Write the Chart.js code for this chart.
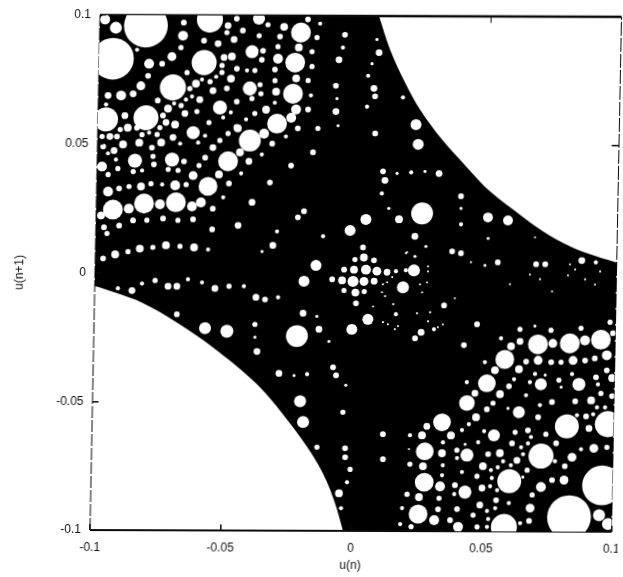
<!DOCTYPE html>
<html>
<head>
<meta charset="utf-8">
<title>u(n) vs u(n+1)</title>
<script src="https://cdn.jsdelivr.net/npm/chart.js@4/dist/chart.umd.min.js"></script>
<style>
  html, body { margin: 0; background: #fff; overflow: hidden; }
  /* the original is a slightly skewed scan */
  #chart { display: block; transform-origin: 356px 273.5px; transform: matrix(1, 0.0033, -0.0194, 1, 0, 0); }
</style>
</head>
<body>
<canvas id="chart" width="623" height="577"></canvas>
<script>
const tickValues = [-0.1, -0.05, 0, 0.05, 0.1];
const xTickLabels = ['-0.1', '-0.05', '0', '0.05', '0.1'];
const yTickLabels = ['-0.1', '-0.05', '0', '0.05', '0.1'];

// edge of the black region: top right and bottom left (runs on past the frame, the plot area clips it)
const upperEdge = [[-0.1,0.11],[0.0035,0.11],[0.007,0.1],[0.0115,0.087],[0.0175,0.0742],[0.0234,0.0638],[0.0321,0.0521],[0.0419,0.0413],[0.0509,0.032],[0.0614,0.0239],[0.0715,0.0166],[0.082,0.0108],[0.0924,0.0069],[0.1,0.0046],[0.11,0.002]];
const lowerEdge = [[-0.11,-0.003],[-0.1,-0.0052],[-0.0929,-0.0075],[-0.0813,-0.0118],[-0.0682,-0.0193],[-0.0542,-0.0289],[-0.037,-0.0432],[-0.0253,-0.0568],[-0.015,-0.071],[-0.0083,-0.0838],[-0.003,-0.1],[-0.001,-0.11],[0.11,-0.11]];

// short tick marks on the right and top of the frame
const rightTick = [[0.0972,0.05],[0.1,0.05]];
const topTick = [[0.05,0.0975],[0.05,0.1]];

// gaps in the black region, each one [u(n), u(n+1), radius]
const gapsUpperLeft = [[-0.098,0.0983,0.0019],[-0.0938,0.0951,0.0023],[-0.0823,0.096,0.0084],[-0.0678,0.0972,0.0011],[-0.0578,0.0984,0.005],[-0.068,0.0921,0.0019],[-0.0508,0.0961,0.0013],[-0.0475,0.0988,0.0011],[-0.0947,0.0831,0.008],[-0.0808,0.0812,0.0019],[-0.0758,0.0812,0.0011],[-0.0721,0.084,0.0017],[-0.0597,0.0817,0.0048],[-0.0599,0.0902,0.0011],[-0.0545,0.0891,0.0013],[-0.0687,0.0875,0.001],[-0.0855,0.0866,0.0008],[-0.0512,0.0934,0.001],[-0.0484,0.0907,0.0013],[-0.0521,0.0837,0.0013],[-0.0491,0.0841,0.0015],[-0.0528,0.0806,0.001],[-0.0528,0.0779,0.001],[-0.0471,0.0794,0.0011],[-0.0662,0.0778,0.001],[-0.0811,0.0765,0.0011],[-0.055,0.0762,0.0008],[-0.0493,0.0755,0.0015],[-0.0604,0.0751,0.0008],[-0.0573,0.0743,0.001],[-0.0715,0.072,0.005],[-0.0627,0.0735,0.0015],[-0.0838,0.0726,0.0017],[-0.065,0.0716,0.001],[-0.0561,0.0708,0.0013],[-0.0508,0.0717,0.0011],[-0.0913,0.0688,0.0019],[-0.0963,0.0688,0.0013],[-0.0867,0.0695,0.0013],[-0.0641,0.0685,0.0008],[-0.0772,0.0669,0.0011],[-0.0611,0.0673,0.0013],[-0.0664,0.0673,0.0008],[-0.0709,0.0658,0.0008],[-0.097,0.0653,0.0008],[-0.0533,0.0643,0.0027],[-0.0732,0.0638,0.0015],[-0.0682,0.065,0.001],[-0.0621,0.0627,0.001],[-0.0491,0.0624,0.0008],[-0.0816,0.0602,0.0048],[-0.0969,0.0595,0.0046],[-0.0897,0.061,0.0013],[-0.0667,0.0619,0.0013],[-0.0751,0.0611,0.0011],[-0.052,0.0604,0.0008],[-0.0739,0.0584,0.0013],[-0.0704,0.0576,0.0015],[-0.0574,0.0584,0.001],[-0.0467,0.0565,0.0013],[-0.0914,0.0556,0.001],[-0.0885,0.0563,0.0015],[-0.085,0.0563,0.0011],[-0.0762,0.0564,0.001],[-0.0634,0.0545,0.0025],[-0.0588,0.0533,0.0008],[-0.083,0.0536,0.001],[-0.0803,0.0544,0.0008],[-0.0772,0.0537,0.001],[-0.05,0.0542,0.001],[-0.0953,0.0529,0.0013],[-0.0926,0.0529,0.0011],[-0.0983,0.0529,0.001],[-0.0711,0.0526,0.0013],[-0.084,0.0505,0.0015],[-0.0756,0.0506,0.0015],[-0.0902,0.0498,0.0015],[-0.0978,0.049,0.0011],[-0.0791,0.0486,0.0011],[-0.0683,0.0502,0.0008],[-0.0614,0.0506,0.0008],[-0.0557,0.0487,0.0013],[-0.0531,0.0515,0.001]];

const gapsLeftBand = [[-0.0936,0.0474,0.0013],[-0.0416,0.0515,0.0042],[-0.033,0.0503,0.0011],[-0.0453,0.0469,0.0015],[-0.0369,0.0461,0.0008],[-0.0173,0.047,0.0011],[-0.0855,0.0435,0.0027],[-0.0786,0.0452,0.001],[-0.0713,0.044,0.0027],[-0.0928,0.0439,0.0008],[-0.0959,0.0463,0.0008],[-0.0586,0.0448,0.0011],[-0.0498,0.0434,0.0038],[-0.0418,0.0434,0.0013],[-0.0667,0.0433,0.0011],[-0.0981,0.0412,0.0019],[-0.0782,0.0421,0.0011],[-0.0609,0.0417,0.001],[-0.092,0.0404,0.001],[-0.0256,0.0418,0.0011],[-0.0861,0.0393,0.001],[-0.0827,0.0397,0.0008],[-0.0727,0.0402,0.001],[-0.0689,0.0398,0.001],[-0.0957,0.0381,0.001],[-0.0631,0.0378,0.0017],[-0.0532,0.0383,0.0015],[-0.0447,0.0387,0.0008],[-0.0573,0.0336,0.0036],[-0.0336,0.0352,0.0011],[-0.0493,0.0348,0.0011],[-0.0699,0.034,0.0019],[-0.0657,0.0343,0.001],[-0.083,0.0335,0.0015],[-0.0792,0.0346,0.001],[-0.0749,0.0343,0.0008],[-0.0876,0.0335,0.001],[-0.0914,0.0327,0.0011],[-0.0956,0.0315,0.0019],[-0.0514,0.0294,0.0008],[-0.0936,0.0245,0.0038],[-0.0817,0.0269,0.0038],[-0.0695,0.0274,0.0038],[-0.0875,0.0249,0.0019],[-0.0756,0.0266,0.0019],[-0.0633,0.0258,0.0019],[-0.0599,0.0274,0.0019],[-0.0553,0.025,0.0011],[-0.0403,0.0275,0.0013],[-0.0981,0.0222,0.0015],[-0.0203,0.0241,0.0011],[-0.0226,0.0217,0.0011],[-0.0858,0.0203,0.0011],[-0.0805,0.0204,0.001],[-0.0743,0.0211,0.0011],[-0.0686,0.0204,0.001],[-0.0628,0.0208,0.0011],[-0.0969,0.0176,0.0011],[-0.0911,0.0183,0.0011],[-0.0957,0.0152,0.001],[-0.0455,0.0185,0.0013],[-0.0554,0.0169,0.0011],[-0.0305,0.0162,0.0008],[-0.0128,0.0144,0.0008],[-0.083,0.0094,0.0015],[-0.073,0.0107,0.0015],[-0.0622,0.0099,0.0015],[-0.0676,0.0103,0.001],[-0.078,0.0099,0.001],[-0.0875,0.0082,0.001],[-0.0924,0.0071,0.0015],[-0.0568,0.0091,0.0008],[-0.032,0.0108,0.0013],[-0.097,0.0055,0.0011],[-0.0361,0.0084,0.0006],[-0.0153,0.0031,0.0021],[-0.0198,-0.0031,0.0021],[-0.0719,-0.0052,0.0013],[-0.0685,-0.0052,0.0013],[-0.0819,-0.0042,0.0008],[-0.0769,-0.003,0.001],[-0.0643,-0.0025,0.0008],[-0.0589,-0.0037,0.0008],[-0.0539,-0.006,0.0013],[-0.0485,-0.0051,0.001],[-0.0428,-0.0051,0.0008],[-0.0911,-0.0061,0.0008],[-0.0857,-0.0069,0.0013],[-0.0381,-0.0094,0.0013],[-0.0346,-0.0102,0.0011],[-0.0296,-0.0094,0.0008]];

const gapsLowerLeft = [[-0.0574,-0.0215,0.0023],[-0.049,-0.0226,0.0025],[-0.0221,-0.0244,0.0042],[-0.0683,-0.0161,0.0011],[-0.0137,-0.0217,0.0013],[-0.0011,-0.0217,0.0021],[-0.0199,-0.0155,0.0013],[-0.0146,-0.0167,0.0006],[-0.0373,-0.0304,0.0013],[-0.0383,-0.0199,0.001],[-0.0382,-0.0249,0.0006],[-0.0098,-0.0264,0.0006],[-0.008,-0.0365,0.0011],[-0.0068,-0.0396,0.0011],[-0.0287,-0.0389,0.0013],[-0.0229,-0.0397,0.0006],[-0.0179,-0.0392,0.0008],[-0.003,-0.0434,0.0006],[-0.0039,-0.0539,0.001],[-0.0204,-0.0497,0.0023],[-0.0191,-0.0578,0.0023],[-0.0136,-0.0675,0.001],[-0.0028,-0.0679,0.0011],[-0.0027,-0.0714,0.0011],[-0.0007,-0.0761,0.001],[-0.0018,-0.0811,0.0008],[-0.0048,-0.0854,0.0015],[-0.0039,-0.0912,0.0008]];

const gapsTopMiddle = [[-0.039,0.0988,0.0023],[-0.0355,0.0965,0.001],[-0.0293,0.0957,0.0015],[-0.0228,0.0935,0.0038],[-0.0202,0.0986,0.0011],[-0.0155,0.097,0.0008],[-0.0059,0.0927,0.0011],[-0.0451,0.0942,0.0011],[-0.0388,0.0922,0.001],[-0.0308,0.0919,0.0011],[-0.0166,0.0916,0.001],[-0.0315,0.088,0.001],[-0.0235,0.0877,0.0015],[-0.0414,0.086,0.0025],[-0.0372,0.0864,0.0011],[-0.0184,0.0861,0.001],[-0.0066,0.0877,0.0008],[0.0064,0.0909,0.0006],[0.0073,0.0858,0.0013],[-0.0376,0.0829,0.0011],[-0.0314,0.0833,0.0019],[-0.0248,0.0818,0.0038],[-0.008,0.083,0.0013],[-0.0183,0.0803,0.001],[-0.0432,0.0787,0.0008],[-0.0402,0.0787,0.001],[-0.0325,0.0791,0.0011],[0.0047,0.0815,0.0006],[-0.0243,0.0757,0.0015],[-0.0197,0.0749,0.001],[0.0033,0.0768,0.0008],[-0.0324,0.0748,0.001],[-0.0381,0.0732,0.001],[-0.042,0.0717,0.0027],[-0.009,0.0729,0.0011],[0.0056,0.0719,0.0013],[-0.0319,0.0705,0.0015],[-0.0254,0.0697,0.0038],[-0.0377,0.0697,0.001],[-0.0185,0.0691,0.0008],[0.0061,0.0688,0.0011],[-0.0085,0.0679,0.0006],[-0.0411,0.0678,0.001],[-0.0469,0.0666,0.0011],[-0.0323,0.0662,0.0008],[-0.0356,0.0635,0.0015],[-0.0241,0.0636,0.0019],[-0.0195,0.0636,0.0011],[0.0031,0.0648,0.0008],[-0.0088,0.0629,0.0013],[-0.0399,0.062,0.001],[-0.0259,0.0604,0.0019],[-0.0432,0.0597,0.0008],[-0.0313,0.0581,0.0038],[-0.0463,0.0562,0.0015],[-0.0233,0.0563,0.0011],[-0.0156,0.0563,0.001],[-0.0079,0.0574,0.0006],[-0.0362,0.0542,0.0019],[0.0064,0.0544,0.0011],[-0.0278,0.0531,0.0008]];

const gapsRightBand = [[0.0168,0.0684,0.0008],[0.022,0.0579,0.0021],[0.023,0.0502,0.0021],[0.0097,0.0397,0.0011],[0.0105,0.0362,0.0013],[0.0151,0.0389,0.0006],[0.0205,0.0393,0.0008],[0.0258,0.0397,0.0006],[0.0312,0.0389,0.0013],[0.0094,0.0311,0.0008],[0.0398,0.0301,0.0011],[0.025,0.0234,0.0042],[0.0162,0.0211,0.0015],[0.0122,0.0253,0.0006],[0.0399,0.0254,0.0006],[0.0503,0.0219,0.0019],[0.058,0.0208,0.0019],[0.04,0.0192,0.0008],[0.0224,0.0145,0.0013],[0.0505,0.0138,0.0006],[0.0685,0.0143,0.0004],[0.0368,0.0087,0.0011],[0.0402,0.008,0.0011],[0.0191,0.0079,0.0004],[0.0226,0.0067,0.0006],[0.0544,0.0045,0.0011],[0.0495,0.0033,0.0006],[0.0441,0.0045,0.0004],[0.0691,0.0038,0.0011],[0.0726,0.0038,0.0011],[0.0866,0.0053,0.0013],[0.092,0.0046,0.0008]];

const gapsCentre = [[0.0035,0.021,0.0021],[-0.0025,0.0167,0.0021],[0.0026,0.0101,0.0011],[0.0267,0.0106,0.0006],[-0.0004,0.0054,0.001],[0.003,0.0062,0.0015],[0.0069,0.0051,0.0011],[-0.0045,0.0015,0.0011],[-0.0007,0.0015,0.0015],[0.0039,0.0015,0.0019],[0.0081,0.0009,0.0017],[0.012,0.0005,0.0013],[0.0154,0.0009,0.0008],[0.0192,0.0013,0.0008],[0.0223,0.0013,0.0023],[-0.009,-0.0023,0.0011],[-0.0052,-0.0027,0.0015],[-0.001,-0.0031,0.0021],[0.0032,-0.0031,0.0017],[0.0071,-0.003,0.0013],[0.0182,-0.0053,0.0023],[-0.0044,-0.0066,0.001],[0,-0.0074,0.0015],[0.0034,-0.007,0.001],[0.0003,-0.0116,0.0011],[0.0341,-0.0123,0.0011],[0.005,-0.0178,0.0021],[0.0157,-0.0158,0.0008],[0.0232,-0.0251,0.0011],[0.0255,-0.0228,0.0013],[0.0304,-0.0216,0.0008],[0.042,-0.0277,0.0011],[0.0469,-0.0196,0.0011]];

const gapsSpecks = [[0.0121,-0.0034,0.0004],[0.0105,-0.0042,0.0004],[0.014,-0.0014,0.0004],[0.0102,-0.0073,0.0004],[0.0114,-0.0088,0.0004],[0.0108,-0.0189,0.0004],[0.0127,-0.0197,0.0004],[0.0154,-0.0216,0.0004],[0.0166,-0.0204,0.0004],[0.0146,-0.0119,0.0004],[0.0069,-0.0128,0.0004],[0.0247,-0.0042,0.0004],[0.0256,-0.0073,0.0004],[0.0274,-0.0034,0.0004],[0.0277,0.0028,0.0004],[0.0277,0.0009,0.0004],[0.0195,0.0083,0.0004],[0.0382,-0.0095,0.0004],[0.0288,-0.015,0.0004],[0.0238,-0.0154,0.0004],[0.0281,-0.0185,0.0004],[0.0319,-0.0208,0.0004],[0.0338,-0.0197,0.0004],[0.0668,-0.0002,0.0004],[0.0707,-0.002,0.0004],[0.0821,0.0038,0.0004],[0.0841,0.0018,0.0004],[0.0814,-0.0005,0.0004],[0.088,-0.002,0.0004],[0.0918,-0.004,0.0004],[0.0937,0.0011,0.0004],[0.0754,-0.0067,0.0004],[0.0592,-0.004,0.0004]];

const gapsLowerRight = [[0.0704,-0.0273,0.0038],[0.0826,-0.0269,0.0038],[0.0945,-0.0254,0.0038],[0.0761,-0.0269,0.0017],[0.0884,-0.0257,0.0019],[0.0991,-0.0229,0.0011],[0.0635,-0.0262,0.0013],[0.0601,-0.0281,0.0015],[0.0562,-0.025,0.0008],[0.0634,-0.0215,0.001],[0.0753,-0.0218,0.001],[0.0868,-0.021,0.001],[0.0691,-0.0202,0.0006],[0.0979,-0.0186,0.001],[0.0578,-0.0332,0.0036],[0.0706,-0.0335,0.0017],[0.066,-0.034,0.0011],[0.0756,-0.0342,0.0011],[0.0794,-0.0342,0.001],[0.084,-0.0335,0.0017],[0.0886,-0.0335,0.0011],[0.0923,-0.0327,0.0011],[0.0969,-0.0315,0.0019],[0.0502,-0.0343,0.0008],[0.0541,-0.0374,0.0015],[0.0633,-0.037,0.0015],[0.097,-0.0373,0.0011],[0.0511,-0.0425,0.0034],[0.0695,-0.0388,0.0008],[0.0734,-0.0392,0.0006],[0.0837,-0.0388,0.0008],[0.0929,-0.04,0.0011],[0.0991,-0.0403,0.0015],[0.0615,-0.0409,0.0008],[0.0676,-0.042,0.0008],[0.0787,-0.0412,0.001],[0.0718,-0.0428,0.0023],[0.0864,-0.0428,0.0025],[0.0937,-0.0428,0.0008],[0.0434,-0.0421,0.0008],[0.0596,-0.0436,0.0011],[0.0466,-0.0464,0.0013],[0.0796,-0.0439,0.0006],[0.0562,-0.0467,0.0015],[0.0662,-0.0471,0.0008],[0.0949,-0.0463,0.001],[0.0992,-0.0473,0.0011],[0.0436,-0.0502,0.003],[0.0912,-0.049,0.0015],[0.0851,-0.0494,0.0011],[0.0762,-0.0497,0.0011],[0.0536,-0.0502,0.001],[0.0716,-0.0509,0.0008],[0.0935,-0.0517,0.0008],[0.0966,-0.0517,0.0008],[0.0513,-0.0526,0.0011],[0.0594,-0.0522,0.0006],[0.0636,-0.0537,0.0023],[0.0472,-0.0557,0.0015],[0.071,-0.0556,0.0011],[0.0894,-0.0552,0.0011],[0.0859,-0.0548,0.0008],[0.0921,-0.0544,0.0008],[0.0116,-0.0624,0.0011],[0.022,-0.0628,0.0008],[0.0266,-0.0628,0.0015],[0.0284,-0.0593,0.0013],[0.0342,-0.0577,0.0034],[0.0377,-0.0628,0.0015],[0.0445,-0.0584,0.0008],[0.0419,-0.0607,0.0008],[0.0542,-0.0627,0.0023],[0.0504,-0.0611,0.0008],[0.0623,-0.0615,0.001],[0.0672,-0.0607,0.0011],[0.0741,-0.0622,0.001],[0.0821,-0.0591,0.0046],[0.0906,-0.0599,0.0013],[0.0978,-0.0582,0.005],[0.0684,-0.0633,0.0008],[0.0278,-0.069,0.0034],[0.0344,-0.0697,0.0015],[0.0217,-0.0682,0.0004],[0.044,-0.0704,0.0025],[0.0401,-0.0685,0.001],[0.0402,-0.0716,0.0008],[0.0347,-0.0655,0.0008],[0.0432,-0.0662,0.0006],[0.0482,-0.0654,0.0008],[0.0612,-0.0658,0.0011],[0.0647,-0.0673,0.0008],[0.0673,-0.0658,0.0008],[0.0781,-0.0657,0.0011],[0.0877,-0.068,0.0008],[0.0926,-0.0676,0.0017],[0.0976,-0.0672,0.001],[0.0724,-0.0707,0.0048],[0.0521,-0.07,0.0011],[0.0566,-0.0696,0.0015],[0.0655,-0.07,0.0008],[0.0843,-0.0711,0.0017],[0.0632,-0.0724,0.0013],[0.0778,-0.0727,0.0008],[0.0579,-0.0728,0.0008],[0.0118,-0.0721,0.0011],[0.0222,-0.074,0.001],[0.0272,-0.0748,0.0015],[0.0348,-0.0744,0.0008],[0.0502,-0.0747,0.0015],[0.0559,-0.0751,0.0008],[0.0609,-0.0743,0.0008],[0.0672,-0.0762,0.001],[0.0816,-0.0746,0.0011],[0.0422,-0.077,0.0008],[0.0533,-0.0762,0.0008],[0.0346,-0.0783,0.0008],[0.048,-0.0786,0.001],[0.0537,-0.0793,0.0008],[0.0604,-0.0805,0.0046],[0.096,-0.082,0.0076],[0.0278,-0.081,0.0036],[0.0814,-0.08,0.0017],[0.0768,-0.08,0.0011],[0.0656,-0.0789,0.0006],[0.0339,-0.0826,0.0019],[0.0726,-0.0827,0.0019],[0.0396,-0.0821,0.0011],[0.05,-0.0832,0.0013],[0.0531,-0.0825,0.0008],[0.0435,-0.0848,0.0025],[0.0558,-0.084,0.0008],[0.0213,-0.0857,0.001],[0.0259,-0.0868,0.0015],[0.0336,-0.0872,0.001],[0.0394,-0.0856,0.0008],[0.0555,-0.0879,0.0011],[0.0693,-0.0858,0.001],[0.0493,-0.0898,0.0013],[0.0604,-0.089,0.0008],[0.0195,-0.0911,0.0008],[0.0333,-0.0915,0.0011],[0.0406,-0.0914,0.0011],[0.0521,-0.0921,0.0008],[0.0552,-0.091,0.0008],[0.0686,-0.0909,0.0017],[0.0257,-0.0934,0.0036],[0.0319,-0.0957,0.0019],[0.0468,-0.0937,0.001],[0.038,-0.0957,0.0011],[0.0526,-0.0952,0.0008],[0.0587,-0.0983,0.005],[0.0836,-0.0944,0.0084],[0.0951,-0.0936,0.0023],[0.0986,-0.097,0.0023],[0.0683,-0.0959,0.0011],[0.0649,-0.0968,0.0008],[0.0189,-0.0973,0.0008],[0.0411,-0.0983,0.0019],[0.0231,-0.0983,0.001],[0.0484,-0.0983,0.001],[0.0522,-0.0983,0.0008]];

const allGaps = [...gapsUpperLeft, ...gapsLeftBand, ...gapsLowerLeft, ...gapsTopMiddle, ...gapsRightBand, ...gapsCentre, ...gapsSpecks, ...gapsLowerRight];
const toPoints = rows => rows.map(r => ({ x: r[0], y: r[1] }));

const ink = '#0a0a0a';

const axisFont = { family: '"Liberation Sans", Arial, sans-serif', size: 12 };

new Chart(document.getElementById('chart'), {
    type: 'scatter',
    data: {
        datasets: [
            {
                label: 'gaps',
                data: toPoints(allGaps),
                pointBackgroundColor: '#fff',
                pointBorderWidth: 0,
                pointRadius: ctx => {
                    const row = allGaps[ctx.dataIndex];
                    return row ? row[2] * ctx.chart.scales.x.width / 0.2 : 0;
                }
            },
            // frame
            { data: [{ x: -0.1, y: 0.1 }, { x: 0.1, y: 0.1 }], showLine: true, pointRadius: 0, borderColor: ink, borderWidth: 2.5, clip: false },
            { data: [{ x: -0.1, y: -0.1 }, { x: 0.1, y: -0.1 }], showLine: true, pointRadius: 0, borderColor: ink, borderWidth: 2, clip: false },
            { data: [{ x: -0.1, y: -0.1 }, { x: -0.1, y: 0.1 }], showLine: true, pointRadius: 0, borderColor: ink, borderWidth: 1, borderDash: [12, 2], clip: false },
            { data: [{ x: 0.1, y: -0.1 }, { x: 0.1, y: 0.1 }], showLine: true, pointRadius: 0, borderColor: ink, borderWidth: 1, borderDash: [14, 2], clip: false },
            { data: toPoints(rightTick), showLine: true, pointRadius: 0, borderColor: ink, borderWidth: 1.5 },
            { data: toPoints(topTick), showLine: true, pointRadius: 0, borderColor: ink, borderWidth: 1 },
            {
                label: 'upper edge',
                data: toPoints(upperEdge),
                showLine: true,
                tension: 0.35,
                pointRadius: 0,
                borderWidth: 0,
                fill: { target: '+1', above: '#000', below: '#000' }
            },
            {
                label: 'lower edge',
                data: toPoints(lowerEdge),
                showLine: true,
                tension: 0.35,
                pointRadius: 0,
                borderWidth: 0
            }
        ]
    },
    options: {
        responsive: false,
        animation: false,
        events: [],
        layout: { padding: { top: 16, right: 6.5, left: 0, bottom: 0 } },
        plugins: { legend: { display: false }, tooltip: { enabled: false } },
        scales: {
            x: {
                min: -0.1,
                max: 0.1,
                // keep the plot box where the original has it
                afterFit: scale => { scale.height = 46; scale.paddingLeft = 0; scale.paddingRight = 0; },
                afterBuildTicks: scale => { scale.ticks = tickValues.map(value => ({ value })); },
                grid: { drawOnChartArea: false, tickLength: -6, lineWidth: 1.5, color: ink, z: 1 },
                border: { display: false },
                ticks: {
                    autoSkip: false,
                    maxRotation: 0,
                    padding: 16,
                    color: '#111',
                    font: axisFont,
                    callback: (v, i) => xTickLabels[i]
                },
                title: { display: true, text: 'u(n)', color: '#111', font: axisFont, padding: { top: 0, bottom: 4 } }
            },
            y: {
                min: -0.1,
                max: 0.1,
                afterFit: scale => { scale.width = 95; scale.paddingTop = 0; scale.paddingBottom = 0; },
                afterBuildTicks: scale => { scale.ticks = tickValues.map(value => ({ value })); },
                grid: { drawOnChartArea: false, tickLength: -6, lineWidth: 1.5, color: ink, z: 1 },
                border: { display: false },
                ticks: {
                    autoSkip: false,
                    padding: 15,
                    color: '#111',
                    font: axisFont,
                    callback: (v, i) => yTickLabels[i]
                },
                title: { display: true, text: 'u(n+1)', color: '#111', font: axisFont, padding: { top: 12, bottom: 0 } }
            }
        }
    }
});
</script>
</body>
</html>
